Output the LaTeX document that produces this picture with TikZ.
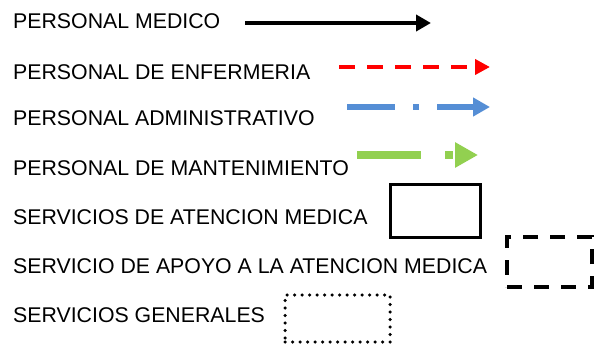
\documentclass[tikz,border=0pt]{standalone}
\usepackage{fontspec}
\setmainfont{Liberation Sans}
\usetikzlibrary{arrows.meta,positioning}

\definecolor{enfred}{RGB}{255,0,0}
\definecolor{admblue}{RGB}{85,142,213}
\definecolor{mantgreen}{RGB}{146,208,80}

\begin{document}
\begin{tikzpicture}
          [x=1pt,y=-1pt,font=\fontsize{21.3}{24}\selectfont]
          \tikzset{
            legtext/.style={anchor=west,inner sep=0pt,text=black},
            medico/.style={-{Triangle[length=15pt,width=16pt]},line width=4pt,black},
            enfermeria/.style={-{Triangle[length=15pt,width=15pt]},line width=4pt,enfred,dash pattern=on 16pt off 12pt},
            administrativo/.style={-{Triangle[length=17pt,width=18pt]},line width=6pt,admblue,dash pattern=on 48pt off 18pt on 6pt off 18pt},
            mantenimiento/.style={-{Triangle[length=23pt,width=24pt]},line width=8pt,mantgreen,dash pattern=on 64pt off 24pt on 8pt off 10pt},
            atencion/.style={draw,line width=3pt,inner sep=0pt},
            apoyo/.style={draw,line width=4.5pt,inner sep=0pt,dash pattern=on 15pt off 12pt},
            generales/.style={draw,line width=3.5pt,inner sep=0pt,line cap=round,dash pattern=on 0pt off 7.5pt}
          }
          \useasboundingbox (0,0) rectangle (594,345);

          % textos de la leyenda
          \node[legtext] (tmed) at (13,21) {PERSONAL MEDICO};
          \node[legtext] (tenf) at (13,72) {PERSONAL DE ENFERMERIA};
          \node[legtext] (tadm) at (13,118) {PERSONAL ADMINISTRATIVO};
          \node[legtext] (tman) at (13,168) {PERSONAL DE MANTENIMIENTO};
          \node[legtext] (tate) at (13,217) {SERVICIOS DE ATENCION MEDICA};
          \node[legtext] (tapo) at (13,266) {SERVICIO DE APOYO A LA ATENCION MEDICA};
          \node[legtext] (tgen) at (13,315) {SERVICIOS GENERALES};

          % flechas
          \coordinate (med1) at (245,23);
          \coordinate (med2) at (431,23);
          \coordinate (enf1) at (339,67);
          \coordinate (enf2) at (490,67);
          \coordinate (adm1) at (347,107);
          \coordinate (adm2) at (490,107);
          \coordinate (man1) at (357,155);
          \coordinate (man2) at (478,155);
          \draw[medico] (med1) -- (med2);
          \draw[enfermeria] (enf1) -- (enf2);
          \draw[administrativo] (adm1) -- (adm2);
          \draw[mantenimiento] (man1) -- (man2);

          % recuadros
          \node[atencion,minimum width=90pt,minimum height=53pt] (rate) at (435,210.5) {};
          \node[apoyo,minimum width=85pt,minimum height=50pt] (rapo) at (549.5,262) {};
          \node[generales,minimum width=105pt,minimum height=47pt] (rgen) at (337.5,318.5) {};
        \end{tikzpicture}
\end{document}
